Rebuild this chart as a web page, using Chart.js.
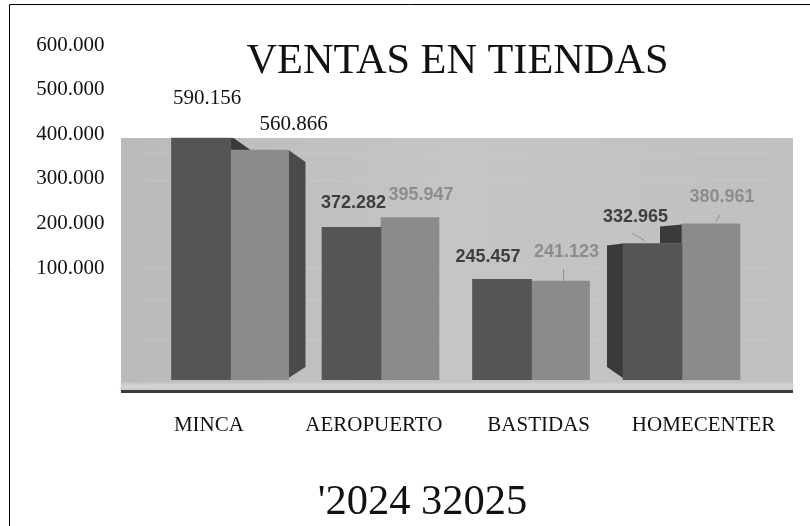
<!DOCTYPE html>
<html><head><meta charset="utf-8">
<style>html,body{margin:0;padding:0;background:#fff}canvas{display:block}</style>
<script src="https://cdn.jsdelivr.net/npm/chart.js@4/dist/chart.umd.min.js"></script>
</head><body><div style="width:810px;height:526px"><canvas id="c"></canvas></div>
<script>
const chartTitle = "VENTAS EN TIENDAS";
const legendText = "'2024 32025";
const categories = ["MINCA","AEROPUERTO","BASTIDAS","HOMECENTER"];
const values2024 = [590156,372282,245457,332965];
const values2025 = [560866,395947,241123,380961];
const tickValues = [100000,200000,300000,400000,500000,600000];
const fmt = v => String(v).replace(/\B(?=(\d{3})+$)/g,'.');
const SERIF = '"Liberation Serif","Times New Roman",serif';

// label offsets from the bar top and centre: [series][category] -> [dx, dy]
const labelOffsets = [
  [[6,-40],[2,-24],[-14,-22],[-17,-26]],
  [[34,-26],[11,-23],[6,-29],[11,-27]]
];

const scene = {
  id:'scene',
  beforeDraw(c){
    const g=c.ctx; g.save();
    g.fillStyle='#fff'; g.fillRect(0,0,810,526);
    const bg=g.createLinearGradient(121,0,793,0);
    bg.addColorStop(0,'#bababa'); bg.addColorStop(.5,'#c5c5c5'); bg.addColorStop(1,'#c0c0c0');
    g.fillStyle=bg; g.fillRect(121,138,672,255);
    g.filter='blur(1px)';
    g.fillStyle='#d2d2d2'; g.fillRect(121,383,672,7);
    g.strokeStyle='#cacaca'; g.lineWidth=1;
    [153,181,268,300,340].forEach(y=>{g.beginPath();g.moveTo(145,y);g.lineTo(770,y);g.stroke();});
    g.filter='blur(0.6px)';
    g.fillStyle='#3c3c3c'; g.fillRect(121,390,672,3);
    g.filter='none';
    g.restore();
  },
  beforeDatasetsDraw(c){
    const g=c.ctx; const a=c.getDatasetMeta(0).data, b=c.getDatasetMeta(1).data;
    g.save(); g.filter='blur(0.7px)';
    const base=a[0].base;
    g.fillStyle='#4a4a4a';
    const R=b[0].x+b[0].width/2;
    poly(g,[[R,b[0].y],[R+17,b[0].y+12],[R+17,base-13],[R,base-2]]);
    g.fillStyle='#3a3a3a';
    const L=a[3].x-a[3].width/2, E=a[3].x+a[3].width/2;
    poly(g,[[L,a[3].y],[L-16,a[3].y+2],[L-16,base-13],[L,base-2]]);
    poly(g,[[E-22,a[3].y],[E-22,a[3].y-17],[E,a[3].y-19],[E,a[3].y]]);
    const M=a[0].x+a[0].width/2;
    poly(g,[[M,a[0].y],[M+3,a[0].y],[M+20,a[0].y+12],[M,a[0].y+12]]);
    g.restore();
    g.save(); g.filter='blur(0.7px)';
  },
  afterDatasetsDraw(c){
    const g=c.ctx; g.restore();
    const metas=[c.getDatasetMeta(0).data,c.getDatasetMeta(1).data];
    g.save(); g.textAlign='center'; g.textBaseline='middle';
    const sets=[values2024,values2025];
    metas.forEach((m,s)=>m.forEach((bar,i)=>{
      const [dx,dy]=labelOffsets[s][i];
      const x=bar.x+dx,y=bar.y+dy,t=fmt(sets[s][i]);
      if(i===0){g.filter='none';g.font='21px '+SERIF;g.fillStyle='#111';}
      else{g.filter='blur(0.7px)';g.font='bold 18px "Liberation Sans",Arial,sans-serif';g.fillStyle=s===0?'#3e3e3e':'#8d8d8d';}
      g.fillText(t,x,y);
    }));
    g.filter='blur(0.5px)'; g.strokeStyle='#8e8e8e'; g.lineWidth=1;
    [[metas[1][2],3,0,0,-12],[metas[1][3],5,-2,4,-7],[metas[0][3],-8,-3,-12,-7]].forEach(([b,dx,dy,w,h])=>{
      g.beginPath();g.moveTo(b.x+dx,b.y+dy);g.lineTo(b.x+dx+w,b.y+dy+h);g.stroke();
    });
    g.restore();
  },
  afterDraw(c){
    const g=c.ctx; g.save();
    g.fillStyle='#111'; g.textAlign='center'; g.textBaseline='middle';
    g.font='42.3px '+SERIF; g.fillText(chartTitle,457.5,62);
    g.font='42.5px '+SERIF; g.fillText(legendText,422.5,503);
    g.strokeStyle='#000'; g.lineWidth=1;
    g.beginPath(); g.moveTo(9.5,526); g.lineTo(9.5,4.5); g.lineTo(810,4.5); g.stroke();
    g.restore();
  }
};
function poly(g,p){g.beginPath();p.forEach((q,i)=>i?g.lineTo(q[0],q[1]):g.moveTo(q[0],q[1]));g.closePath();g.fill();}

const AREA={left:126.5,right:786,bottom:380};
const barPx=0.41/1000, tickPx=44.6/100000, tick0=312.6;
const chart=new Chart(document.getElementById('c'),{
  type:'bar',
  data:{datasets:[
    {label:'2024',data:values2024.map((v,i)=>({x:i,y:v})),backgroundColor:'#555555',barThickness:59,xAxisID:'xb',yAxisID:'yb'},
    {label:'2025',data:values2025.map((v,i)=>({x:i,y:v})),backgroundColor:'#8b8b8b',barThickness:58,xAxisID:'xb',yAxisID:'yb'}
  ]},
  plugins:[scene],
  options:{
    responsive:false,maintainAspectRatio:false,animation:false,
    layout:{padding:{left:0,right:24,top:10,bottom:0}},
    plugins:{legend:{display:false},title:{display:false},tooltip:{enabled:false}},
    scales:{
      xb:{type:'linear',display:false,offset:false,min:-(230.5-AREA.left)/150.5,max:3+(AREA.right-682)/150.5,grid:{offset:false}},
      yb:{type:'linear',display:false,min:0,max:1000000},
      x:{type:'category',labels:categories,position:'bottom',offset:true,grid:{display:false},border:{display:false},
         ticks:{color:'#111',font:{family:SERIF,size:21},padding:25,maxRotation:0,autoSkip:false},
         afterFit(s){s.height=146;}},
      y:{type:'linear',position:'left',min:-150000,max:700000,
         grid:{display:false},border:{display:false},
         afterBuildTicks(s){s.ticks=tickValues.map(v=>({value:v}));},
         afterFit(s){s.width=AREA.left;},
         ticks:{color:'#111',font:{family:SERIF,size:21},padding:14,autoSkip:false,callback:v=>fmt(v)}}
    }
  }
});
// fit both value axes to the laid-out plot area, so the library's scales place the marks
chart.resize(810,526);
for(let pass=0;pass<3;pass++){
  const h=chart.chartArea.bottom-chart.chartArea.top, bottom=chart.chartArea.bottom;
  chart.options.scales.yb.max=h/barPx;
  chart.options.scales.y.min=-(bottom-tick0)/tickPx;
  chart.options.scales.y.max=(h-(bottom-tick0))/tickPx;
  chart.update();
}
</script></body></html>
